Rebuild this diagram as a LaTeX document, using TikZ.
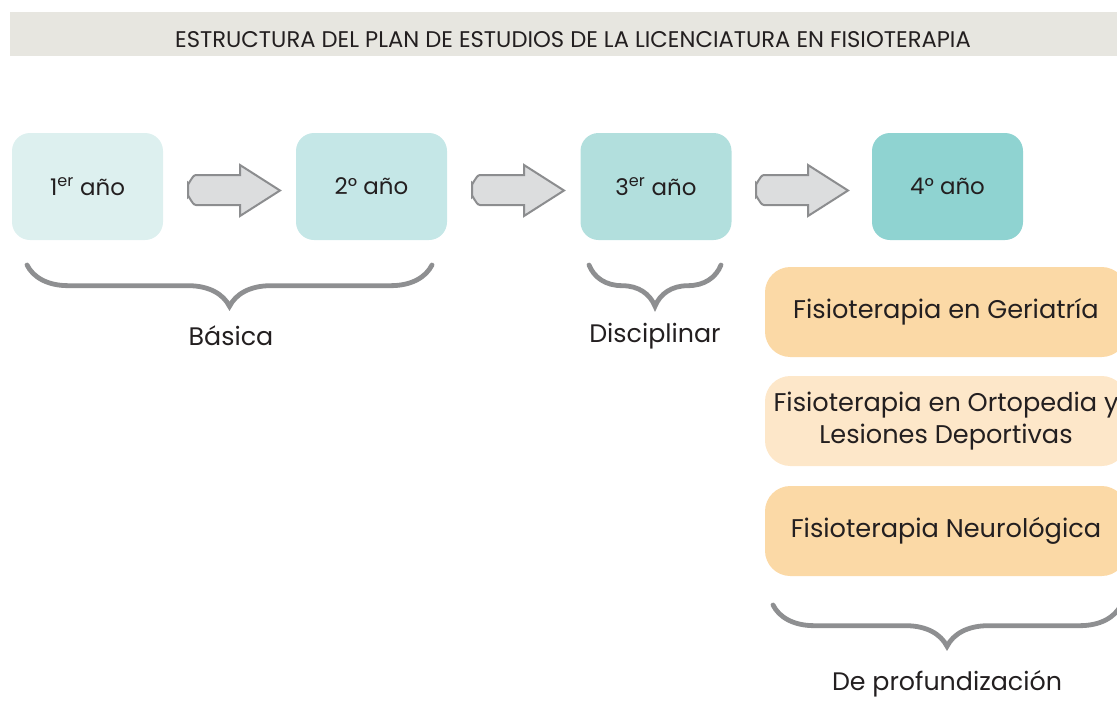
\documentclass[tikz,border=0pt]{standalone}
\usepackage{fontspec}
\setmainfont{Poppins}
\usetikzlibrary{decorations.pathreplacing}

\definecolor{barra}{HTML}{E7E6E0}
\definecolor{texto}{HTML}{231F20}
\definecolor{anioA}{HTML}{DDF0EF}
\definecolor{anioB}{HTML}{C5E7E7}
\definecolor{anioC}{HTML}{B2DFDD}
\definecolor{anioD}{HTML}{8FD3D1}
\definecolor{naranja}{HTML}{FBD9A6}
\definecolor{naranjaclaro}{HTML}{FDE7C9}
\definecolor{flechafondo}{HTML}{DCDDDE}
\definecolor{flechaborde}{HTML}{8C8D8F}
\definecolor{llave}{HTML}{8E8F91}

\tikzset{
  anio/.style={rounded corners=13.5pt, minimum width=113.25pt, minimum height=80.25pt, inner sep=0pt, text=texto, font=\fontsize{17.2}{20}\selectfont},
  area/.style={rounded corners=19pt, minimum width=271.5pt, minimum height=67.5pt, inner sep=0pt, align=center, text=texto, font=\fontsize{19.2}{24}\selectfont},
  flecha/.style={fill=flechafondo, draw=flechaborde, line width=1.5pt, line join=miter},
  llaves/.style={draw=llave, line width=3.6pt, line cap=round, decorate, decoration={brace, mirror, amplitude=31pt}},
  etiqueta/.style={text=texto, inner sep=0.75pt, font=\fontsize{19}{23}\selectfont}
}

\begin{document}
\begin{tikzpicture}[x=0.75pt,y=0.75pt,yscale=-1,xscale=1]
\useasboundingbox (0,0) rectangle (1117,701);
\clip (0,0) rectangle (1117,701);

%Shape: Rectangle [title bar]
\fill[barra] (10,12) rectangle (1130,56);
% Text Node
\node (titulo) at (573,40) [text=texto, inner sep=0.75pt, font=\fontsize{17}{20}\selectfont] {ESTRUCTURA DEL PLAN DE ESTUDIOS DE LA LICENCIATURA EN FISIOTERAPIA};

%Shape: Rounded Rectangle [years]
\node (primero) at (87.5,186.5) [anio, fill=anioA] {1\textsuperscript{er} año};
\node (segundo) at (371.5,186.5) [anio, fill=anioB] {2° año};
\node (tercero) at (656,186.5) [anio, fill=anioC] {3\textsuperscript{er} año};
\node (cuarto) at (947.5,186.5) [anio, fill=anioD] {4° año};

%Shape: Right Arrow
\draw[flecha] (240,175) -- (196,175) to[out=180,in=90] (188,183) -- (188,197) to[out=270,in=180] (196,205) -- (240,205) -- (240,216) -- (280,190.5) -- (240,165) -- cycle;
%Shape: Right Arrow
\draw[flecha] (524,175) -- (480,175) to[out=180,in=90] (472,183) -- (472,197) to[out=270,in=180] (480,205) -- (524,205) -- (524,216) -- (564,190.5) -- (524,165) -- cycle;
%Shape: Right Arrow
\draw[flecha] (808,175) -- (764,175) to[out=180,in=90] (756,183) -- (756,197) to[out=270,in=180] (764,205) -- (808,205) -- (808,216) -- (848,190.5) -- (808,165) -- cycle;

%Shape: Rounded Rectangle [areas]
\node (geriatria) at (946,312) [area, fill=naranja] {Fisioterapia en Geriatría};
\node (ortopedia) at (946,421) [area, fill=naranjaclaro] {Fisioterapia en Ortopedia y\\Lesiones Deportivas};
\node (neuro) at (946,531) [area, fill=naranja] {Fisioterapia Neurológica};

%Shape: Brace
\draw[llaves] (27,265) -- (432,265);
%Shape: Brace
\draw[llaves] (589,265) -- (721,265);
%Shape: Brace
\draw[llaves] (773,605) -- (1121,605);

% Text Node
\node (basica) at (231,336) [etiqueta] {Básica};
% Text Node
\node (disciplinar) at (655,336) [etiqueta] {Disciplinar};
% Text Node
\node (profundizacion) at (947,684) [etiqueta] {De profundización};

\end{tikzpicture}
\end{document}
